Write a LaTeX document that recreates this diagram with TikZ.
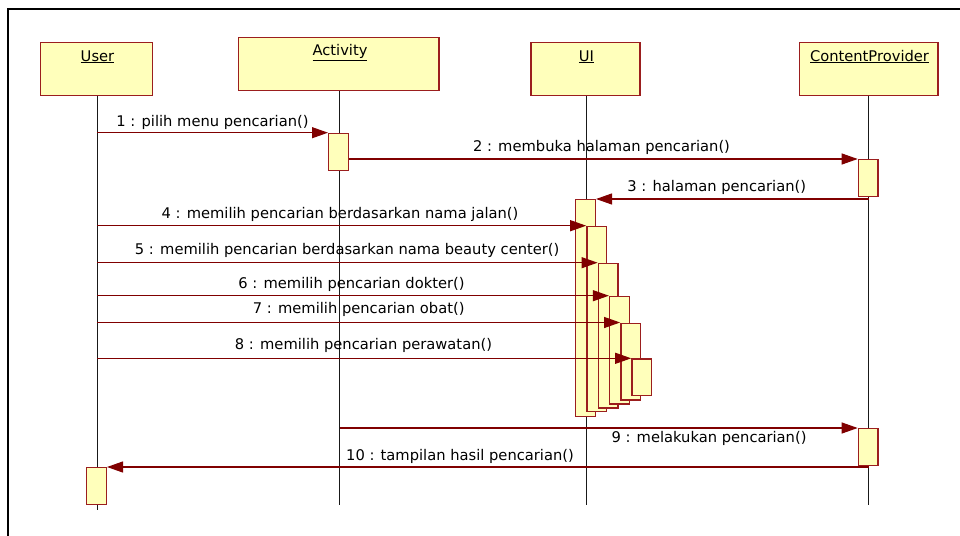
\documentclass[tikz,border=0pt]{standalone}
\usepackage{fontspec}
\setmainfont{DejaVu Sans}
\usetikzlibrary{arrows.meta}
\definecolor{boxfill}{RGB}{255,255,187}
\definecolor{boxline}{RGB}{155,30,30}
\definecolor{msgcol}{RGB}{128,0,0}
\begin{document}
\begin{tikzpicture}[x=1pt,y=-1pt,
  lbl/.style={font=\fontsize{14.7pt}{17pt}\selectfont, inner sep=0pt, anchor=base, text=black},
  head/.style={draw=boxline, fill=boxfill, line width=1.4pt, anchor=north west, inner sep=0pt, minimum height=53.3pt},
  actbox/.style={draw=boxline, fill=boxfill, line width=1.4pt, anchor=north west, inner sep=0pt, minimum width=19.6pt},
  life/.style={draw=black!90, line width=1pt},
  msg/.style={draw=msgcol, line width=1.1pt, -{Triangle[length=16pt,width=11pt]}},
  framel/.style={draw=black, line width=2.6pt}
]
\useasboundingbox (0,0) rectangle (960,535);
% frame (cut off at right and bottom)
\coordinate (fa) at (7.8,536);
\coordinate (fb) at (7.8,9.2);
\coordinate (fc) at (961,9.2);
\draw[framel] (fa) -- (fb) -- (fc);

% lifeline heads
\node[head, minimum width=112pt] (userbox) at (40,41.7) {};
\node[head, minimum width=200.6pt, minimum height=53pt] (actbox) at (237.7,36.7) {};
\node[head, minimum width=109pt] (uibox) at (530.3,41.7) {};
\node[head, minimum width=138.6pt] (cpbox) at (798.7,41.7) {};
\node[lbl] (usertxt) at (97.5,61) {\underline{User}};
\node[lbl] (acttxt) at (340,56) {\underline{Activity}};
\node[lbl] (uitxt) at (586.3,61) {\underline{UI}};
\node[lbl] (cptxt) at (869.5,61) {\underline{ContentProvider}};

% lifelines
\coordinate (userend) at (97,510);
\coordinate (actend) at (339.7,505);
\coordinate (uiend) at (586.7,505);
\coordinate (cpend) at (868.7,505);
\draw[life] (userend |- userbox.south) -- (userend);
\draw[life] (actend |- actbox.south) -- (actend);
\draw[life] (uiend |- uibox.south) -- (uiend);
\draw[life] (cpend |- cpbox.south) -- (cpend);

% activations
\node[actbox, minimum height=37.3pt] (act1) at (328,132.7) {};
\node[actbox, minimum height=36.7pt] (cp1) at (857.7,159) {};
\node[actbox, minimum height=216.7pt] (ui1) at (575,199) {};
\node[actbox, minimum height=185pt] (ui2) at (586.2,225.7) {};
\node[actbox, minimum height=144.6pt] (ui3) at (597.6,262.7) {};
\node[actbox, minimum height=107.6pt] (ui4) at (608.9,295.7) {};
\node[actbox, minimum height=76.7pt] (ui5) at (620.1,322.5) {};
\node[actbox, minimum height=36.4pt] (ui6) at (631.2,358.3) {};
\node[actbox, minimum height=37pt] (cp2) at (857.7,428) {};
\node[actbox, minimum height=37pt] (ua) at (86,467) {};

% messages
\draw[msg] (userend |- act1.north west) -- (act1.north west);
\draw[msg] (act1.east |- cp1.north west) -- (cp1.north west);
\draw[msg] (cpend |- ui1.north east) -- (ui1.north east);
\draw[msg] (userend |- ui2.north west) -- (ui2.north west);
\draw[msg] (userend |- ui3.north west) -- (ui3.north west);
\draw[msg] (userend |- ui4.north west) -- (ui4.north west);
\draw[msg] (userend |- ui5.north west) -- (ui5.north west);
\draw[msg] (userend |- ui6.north west) -- (ui6.north west);
\draw[msg] (actend |- cp2.north west) -- (cp2.north west);
\draw[msg] (cpend |- ua.north east) -- (ua.north east);

% labels
\node[lbl] (m1) at (212.5,126.5) {1 : pilih menu pencarian()};
\node[lbl] (m2) at (601.5,151.5) {2 : membuka halaman pencarian()};
\node[lbl] (m3) at (716.7,191.8) {3 : halaman pencarian()};
\node[lbl] (m4) at (340,218) {4 : memilih pencarian berdasarkan nama jalan()};
\node[lbl] (m5) at (347.2,254.8) {5 : memilih pencarian berdasarkan nama beauty center()};
\node[lbl] (m6) at (351.5,288) {6 : memilih pencarian dokter()};
\node[lbl] (m7) at (358.7,313.8) {7 : memilih pencarian obat()};
\node[lbl] (m8) at (363.5,349.8) {8 : memilih pencarian perawatan()};
\node[lbl] (m9) at (709,442) {9 : melakukan pencarian()};
\node[lbl] (m10) at (460,460.5) {10 : tampilan hasil pencarian()};
\end{tikzpicture}
\end{document}
